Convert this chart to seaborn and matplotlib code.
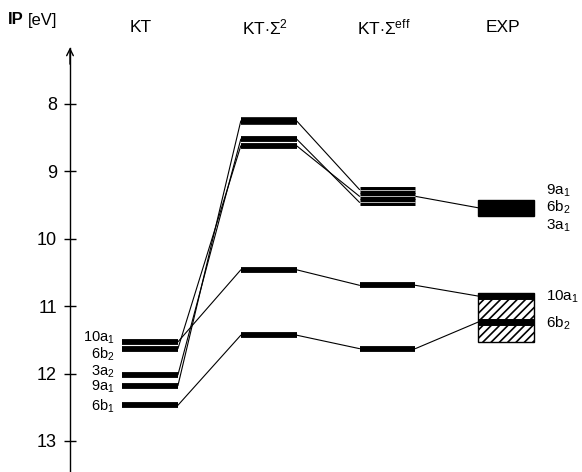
import matplotlib
matplotlib.use("Agg")
import matplotlib.pyplot as plt
import seaborn as sns
import pandas as pd
from matplotlib.patches import Rectangle

# ---- data ----
columns = ["KT", r"KT$\cdot\Sigma^2$", r"KT$\cdot\Sigma^{\rm eff}$", "EXP"]
kt_levels = [11.53, 11.63, 12.02, 12.18, 12.47]
kt_labels = [r"10a$_1$", r"6b$_2$", r"3a$_2$", r"9a$_1$", r"6b$_1$"]
kt_label_y = [11.47, 11.71, 11.98, 12.20, 12.48]
s2_levels = [8.25, 8.52, 8.62, 10.46, 11.43]
seff_levels = [9.27, 9.37, 9.46, 10.69, 11.63]
exp_solid = (9.42, 9.66)
exp_hatched = (10.80, 11.53)
exp_bands = [10.85, 11.235]
exp_labels_top = [r"9a$_1$", r"6b$_2$", r"3a$_1$"]
exp_labels_top_y = [9.29, 9.54, 9.80]
exp_labels_low = [r"10a$_1$", r"6b$_2$"]
exp_labels_low_y = [10.86, 11.26]
# correlation chains: (column index, energy) pairs
chains = [
    [(0, 11.53), (1, 10.46), (2, 10.69), (3, 10.85)],
    [(0, 12.47), (1, 11.43), (2, 11.63), (3, 11.235)],
    [(0, 11.63), (1, 8.62), (2, 9.37), (3, 9.54)],
    [(0, 12.02), (1, 8.52), (2, 9.46)],
    [(0, 12.18), (1, 8.25), (2, 9.27)],
]
yticks = [8, 9, 10, 11, 12, 13]

# ---- style / layout ----
sns.set_style("white")
plt.rcParams["font.family"] = ["Liberation Sans", "DejaVu Sans"]
plt.rcParams["mathtext.fontset"] = "custom"
plt.rcParams["mathtext.rm"] = "Liberation Sans"
plt.rcParams["mathtext.it"] = "Liberation Sans"
plt.rcParams["text.color"] = "black"
plt.rcParams["ytick.color"] = "black"
plt.rcParams["ytick.labelcolor"] = "black"
plt.rcParams["hatch.linewidth"] = 1.2

W, H = 582, 472
fig = plt.figure(figsize=(W / 100, H / 100), dpi=100)
ax = fig.add_axes([70 / W, 0, (W - 70) / W, 1])

hw = 0.235
xl, xr = -0.674, 3.639
ylo, yhi = 6.457, 13.46

# connectors
rows = []
for ci, chain in enumerate(chains):
    for k in range(len(chain) - 1):
        (c0, e0), (c1, e1) = chain[k], chain[k + 1]
        seg = f"{ci}_{k}"
        rows.append({"x": c0 + hw, "y": e0, "seg": seg})
        rows.append({"x": c1 - hw, "y": e1, "seg": seg})
df = pd.DataFrame(rows)
sns.lineplot(data=df, x="x", y="y", units="seg", estimator=None, sort=False,
             color="black", lw=0.8, ax=ax, legend=False)

# level bars
ax.hlines(kt_levels, 0 - hw, 0 + hw, color="black", lw=4.2)
ax.hlines(s2_levels[:1], 1 - hw, 1 + hw, color="black", lw=5.5)
ax.hlines(s2_levels[1:], 1 - hw, 1 + hw, color="black", lw=4.2)
ax.hlines(seff_levels[:3], 2 - hw, 2 + hw, color="black", lw=5.0)
ax.hlines(seff_levels[:3], 2 - hw, 2 + hw, color="white", lw=0.5)
ax.hlines(seff_levels[3:], 2 - hw, 2 + hw, color="black", lw=4.2)
ax.add_patch(Rectangle((3 - hw, exp_solid[0]), 2 * hw, exp_solid[1] - exp_solid[0],
                       facecolor="black", edgecolor="black"))
ax.add_patch(Rectangle((3 - hw, exp_hatched[0]), 2 * hw, exp_hatched[1] - exp_hatched[0],
                       facecolor="white", edgecolor="black", hatch="////", lw=1))
ax.hlines(exp_bands, 3 - hw, 3 + hw, color="black", lw=5.0)

# labels
for lab, y in zip(kt_labels, kt_label_y):
    ax.text(-hw - 0.06, y, lab, ha="right", va="center", fontsize=10.5)
for lab, y in zip(exp_labels_top + exp_labels_low, exp_labels_top_y + exp_labels_low_y):
    ax.text(3 + hw + 0.1, y, lab, ha="left", va="center", fontsize=11)

header_y = 6.87
for i, name in enumerate(columns):
    ax.text(i - 0.08 if i == 0 else i - 0.03, header_y, name, ha="center", va="center", fontsize=12.5)

fig.text(8 / W, 1 - 20 / H, "IP", fontsize=12, fontweight="bold", va="center", ha="left")
fig.text(28 / W, 1 - 20 / H, "[eV]", fontsize=12, va="center", ha="left")

# axis
ax.set_xlim(xl, xr)
ax.set_ylim(yhi, ylo)
for s in ["top", "right", "bottom"]:
    ax.spines[s].set_visible(False)
ax.spines["left"].set_bounds(7.17, yhi)
ax.spines["left"].set_color("black")
ax.spines["left"].set_linewidth(1.0)
ax.set_yticks(yticks)
ax.set_yticklabels([str(t) for t in yticks])
ax.tick_params(axis="y", direction="inout", length=9, width=1, labelsize=13, pad=5, left=True)
ax.set_xticks([])
ax.set_xlabel("")
ax.set_ylabel("")
ax.annotate("", xy=(xl, 7.12), xytext=(xl, 7.45),
            arrowprops=dict(arrowstyle="->", lw=1, color="black", mutation_scale=12),
            annotation_clip=False)

fig.savefig("out.png", dpi=100)
